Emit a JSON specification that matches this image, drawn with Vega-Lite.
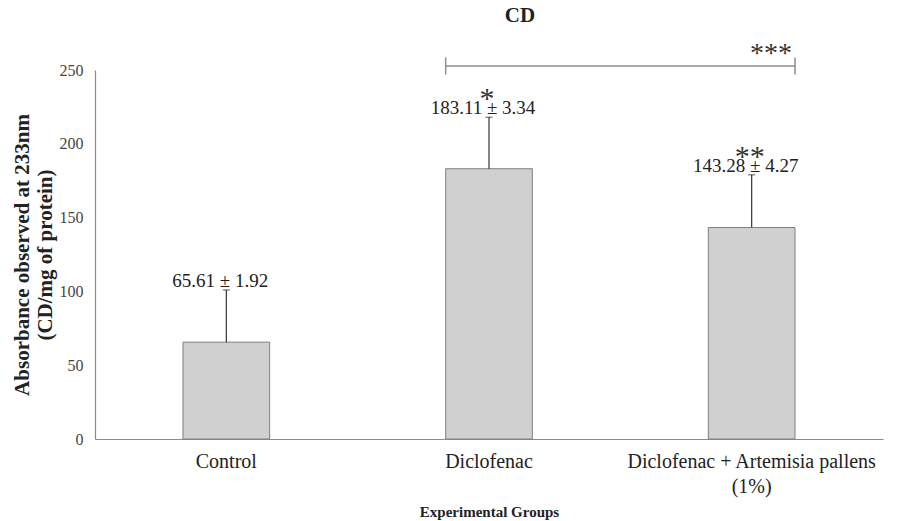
{
  "$schema": "https://vega.github.io/schema/vega-lite/v6.json",
  "width": 788,
  "height": 369,
  "autosize": "none",
  "padding": {"left": 95, "top": 70, "right": 24, "bottom": 82},
  "background": "white",
  "config": {
    "view": {"stroke": null},
    "font": "Liberation Serif"
  },
  "title": {
    "text": "CD",
    "font": "Liberation Serif",
    "fontSize": 21,
    "fontWeight": "bold",
    "color": "#222222",
    "anchor": "middle",
    "dx": 31,
    "offset": 14
  },
  "datasets": {
    "groups": [
      {"group": "Control", "mean": 65.61, "top": 101, "label": "65.61 ± 1.92", "sig": ""},
      {"group": "Diclofenac", "mean": 183.11, "top": 218, "label": "183.11 ± 3.34", "sig": "*"},
      {"group": "Diclofenac + Artemisia pallens (1%)", "mean": 143.28, "top": 179, "label": "143.28 ± 4.27", "sig": "**"}
    ],
    "compare": [
      {"from": "Diclofenac", "to": "Diclofenac + Artemisia pallens (1%)", "sig": "***"}
    ]
  },
  "layer": [
    {
      "data": {"name": "groups"},
      "mark": {"type": "bar", "fill": "#d0d0d0", "stroke": "#7f7f7f", "strokeWidth": 1},
      "encoding": {
        "x": {
          "field": "group",
          "type": "nominal",
          "sort": null,
          "scale": {"paddingInner": 0.67, "paddingOuter": 0.335},
          "axis": {
            "title": "Experimental Groups",
            "titleFont": "Liberation Serif",
            "titleFontSize": 15,
            "titleFontWeight": "bold",
            "titleColor": "#222222",
            "titlePadding": 8,
            "labelAngle": 0,
            "labelFont": "Liberation Serif",
            "labelFontSize": 20,
            "labelColor": "#222222",
            "labelPadding": 12,
            "labelLineHeight": 25,
            "labelLimit": 0,
            "labelExpr": "datum.value == 'Diclofenac + Artemisia pallens (1%)' ? ['Diclofenac + Artemisia pallens', '(1%)'] : datum.label",
            "ticks": false,
            "domainColor": "#8c8c8c",
            "domainWidth": 1.2
          }
        },
        "y": {
          "field": "mean",
          "type": "quantitative",
          "scale": {"domain": [0, 250], "nice": false},
          "axis": {
            "title": ["Absorbance observed at 233nm", "(CD/mg of protein)"],
            "titleFont": "Liberation Serif",
            "titleFontSize": 21,
            "titleFontWeight": "bold",
            "titleColor": "#222222",
            "titleLineHeight": 23,
            "titlePadding": 4,
            "values": [0, 50, 100, 150, 200, 250],
            "labelFont": "Liberation Serif",
            "labelFontSize": 16,
            "labelColor": "#444444",
            "labelPadding": 12,
            "ticks": false,
            "grid": false,
            "domainColor": "#8c8c8c",
            "domainWidth": 1.2
          }
        }
      }
    },
    {
      "data": {"name": "groups"},
      "mark": {"type": "rule", "color": "#333333", "strokeWidth": 1.2},
      "encoding": {
        "x": {"field": "group", "type": "nominal", "sort": null},
        "y": {"field": "mean", "type": "quantitative"},
        "y2": {"field": "top"}
      }
    },
    {
      "data": {"name": "groups"},
      "mark": {"type": "tick", "color": "#333333", "size": 7, "thickness": 1.2, "orient": "horizontal"},
      "encoding": {
        "x": {"field": "group", "type": "nominal", "sort": null},
        "y": {"field": "top", "type": "quantitative"}
      }
    },
    {
      "data": {"name": "groups"},
      "mark": {"type": "text", "font": "Liberation Serif", "fontSize": 19, "color": "#222222", "baseline": "middle", "dy": -9, "dx": -6},
      "encoding": {
        "x": {"field": "group", "type": "nominal", "sort": null},
        "y": {"field": "top", "type": "quantitative"},
        "text": {"field": "label"}
      }
    },
    {
      "data": {"name": "groups"},
      "mark": {"type": "text", "font": "Liberation Serif", "fontSize": 30, "color": "#333333", "baseline": "middle", "dy": -18, "dx": -2},
      "encoding": {
        "x": {"field": "group", "type": "nominal", "sort": null},
        "y": {"field": "top", "type": "quantitative"},
        "text": {"field": "sig"}
      }
    },
    {
      "data": {"name": "compare"},
      "mark": {"type": "rule", "color": "#8c8c8c", "strokeWidth": 1.5},
      "encoding": {
        "x": {"field": "from", "type": "nominal", "bandPosition": 0},
        "x2": {"field": "to", "bandPosition": 1},
        "y": {"datum": 252.7, "type": "quantitative"}
      }
    },
    {
      "data": {"name": "compare"},
      "mark": {"type": "rule", "color": "#8c8c8c", "strokeWidth": 1.5},
      "encoding": {
        "x": {"field": "from", "type": "nominal", "bandPosition": 0},
        "y": {"datum": 258.5, "type": "quantitative"},
        "y2": {"datum": 247}
      }
    },
    {
      "data": {"name": "compare"},
      "mark": {"type": "rule", "color": "#8c8c8c", "strokeWidth": 1.5},
      "encoding": {
        "x": {"field": "to", "type": "nominal", "bandPosition": 1},
        "y": {"datum": 258.5, "type": "quantitative"},
        "y2": {"datum": 247}
      }
    },
    {
      "data": {"name": "compare"},
      "mark": {"type": "text", "font": "Liberation Serif", "fontSize": 28, "color": "#333333", "baseline": "middle", "dx": -24, "dy": -12},
      "encoding": {
        "x": {"field": "to", "type": "nominal", "bandPosition": 1},
        "y": {"datum": 252.7, "type": "quantitative"},
        "text": {"field": "sig"}
      }
    }
  ]
}
